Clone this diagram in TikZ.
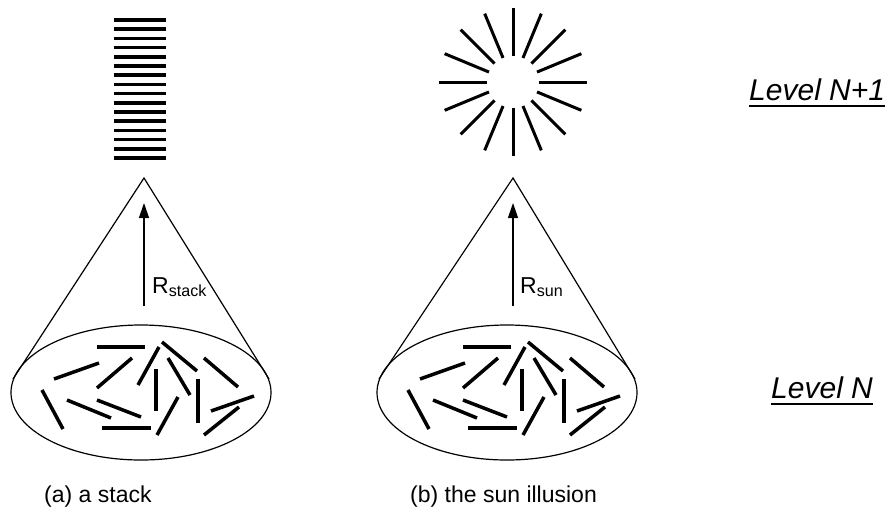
\documentclass[tikz,border=0pt]{standalone}
\usepackage{fontspec}
\setmainfont{Liberation Sans}
\usepackage{tikz}
\usetikzlibrary{arrows.meta, shapes.geometric}

\begin{document}
\begin{tikzpicture}[x=1pt, y=-1pt,
  patch/.style={ellipse, draw, line width=1.2pt, minimum width=260pt,
    minimum height=135pt, inner sep=0pt},
  cone/.style={line width=1.2pt},
  rod/.style={line width=3.5pt},
  bar/.style={line width=3.5pt},
  ray/.style={line width=3pt},
  rarrow/.style={line width=1.2pt, -{Triangle[length=15pt, width=10pt]}},
  rlabel/.style={font=\fontsize{23}{28}\selectfont, anchor=base west, inner sep=0pt},
  caption/.style={font=\fontsize{23}{28}\selectfont, anchor=base west, inner sep=0pt},
  levellabel/.style={font=\fontsize{30}{35}\selectfont\itshape, anchor=base west, inner sep=0pt},
  uline/.style={line width=2.5pt},
]
  \useasboundingbox (0,0) rectangle (890,517);

  % Level N+1: stack and sun
  \foreach \i in {0,...,15}
    \draw[bar] (114,20+9.2*\i) -- (166,20+9.2*\i);
  \coordinate (sun) at (513,82);
  \foreach \a in {0,22.5,...,337.5}
    \draw[ray] (sun) ++(\a:26) -- ++(\a:48);

  % Level N: patches of rods
  \node[patch] (baseA) at (141,392.5) {};
  \node[patch] (baseB) at (507,392.5) {};
  \foreach \dx in {0,366} {
    \begin{scope}[xshift=\dx pt]
      \foreach \xa/\ya/\xb/\yb in {97/347/145/347, 162/342/197/371, 54/379/99/363,
          97/388/132/358, 138/385/159/347, 168/358/190/395, 204/358/238/387,
          156/369/156/411, 198/379/198/423, 42/390/63/429, 67/400/111/418,
          97/400/141/417, 102/428/151/428, 157/435/178/397, 211/411/254/396,
          204/435/239/407}
        \draw[rod] (\xa,\ya) -- (\xb,\yb);
    \end{scope}
  }

  % Cones
  \coordinate (apexA) at (144,178);
  \coordinate (apexB) at (513,178);
  \draw[cone] (baseA.174) -- (apexA) -- (baseA.6);
  \draw[cone] (baseB.174) -- (apexB) -- (baseB.6);

  % Radii
  \coordinate (footA) at (144,306);
  \coordinate (tipA) at (144,203);
  \coordinate (footB) at (513,306);
  \coordinate (tipB) at (513,203);
  \draw[rarrow] (footA) -- (tipA);
  \draw[rarrow] (footB) -- (tipB);
  \node[rlabel] (rA) at (152,293) {R\textsubscript{stack}};
  \node[rlabel] (rB) at (520,293) {R\textsubscript{sun}};

  % Captions and levels
  \node[caption] (capA) at (44,502) {(a) a stack};
  \node[caption] (capB) at (410,502) {(b) the sun illusion};
  \node[levellabel] (lvtop) at (749,100) {Level N+1};
  \node[levellabel] (lvbot) at (771,398) {Level N};
  \draw[uline] ([yshift=-6pt]lvtop.base west) -- ([yshift=-6pt]lvtop.base east);
  \draw[uline] ([yshift=-6pt]lvbot.base west) -- ([yshift=-6pt]lvbot.base east);
\end{tikzpicture}
\end{document}
